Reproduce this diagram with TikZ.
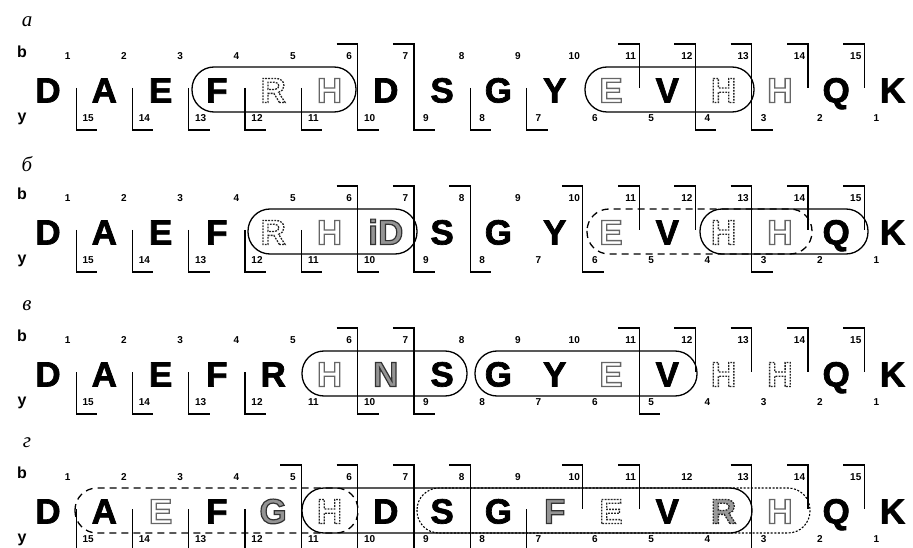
\documentclass[tikz,border=0pt]{standalone}
\usepackage{fontspec}
\setmainfont{Liberation Sans}
\newfontfamily\labfont{Liberation Serif}
\usetikzlibrary{calc}
\newcommand{\pdflit}[1]{\special{pdf:literal direct #1}}
\tikzset{
  res/.style={font=\fontsize{35}{35}\selectfont\bfseries,anchor=base,inner sep=0pt},
  num/.style={font=\fontsize{10}{10}\selectfont\bfseries,inner sep=0pt},
  ion/.style={font=\fontsize{16}{16}\selectfont\bfseries,inner sep=0pt},
  plab/.style={font=\fontsize{21}{21}\selectfont\labfont\itshape,inner sep=0pt},
  frag/.style={line width=1.2pt},
  caps/.style={line width=1.3pt,rounded corners=22pt},
  capsdash/.style={caps,dash pattern=on 7pt off 5pt},
  capsdot/.style={caps,line width=1.1pt,dash pattern=on 2pt off 1.6pt},
  resplain/.style={execute at begin node={\pdflit{2 Tr 0.7 w}},
                   execute at end node={\pdflit{0 Tr}}},
  reshollow/.style={execute at begin node={\pdflit{1 Tr 1.3 w 0.4 G}},
                    execute at end node={\pdflit{0 Tr 0 G}}},
  resdot/.style={execute at begin node={\pdflit{1 Tr 1.3 w 0.15 G [1.8 1.2] 0 d}},
                 execute at end node={\pdflit{0 Tr 0 G [] 0 d}}},
  resgrey/.style={execute at begin node={\pdflit{2 Tr 1.2 w 0.58 g 0.2 G}},
                  execute at end node={\pdflit{0 Tr 0 g 0 G}}},
  resgreydot/.style={execute at begin node={\pdflit{2 Tr 1.3 w 0.6 g 0.15 G [1.8 1.2] 0 d}},
                     execute at end node={\pdflit{0 Tr 0 g 0 G [] 0 d}}},
}
% #1 name, #2 row centre, #3 panel label, #4 residues, #5 b ions, #6 y ions (by cleavage site)
\newcommand{\pepline}[6]{%
  \node[plab] (#1lab) at (27,#2-68) {#3};
  \node[ion] (#1b) at (22,#2-38) {b};
  \node[ion] (#1y) at (22,#2+29) {y};
  \foreach \r/\s [count=\i from 0] in {#4}
    \node[res,\s] (#1r\i) at (48+56.3*\i,#2+12.5) {\r};
  \foreach \k in {1,...,15}{
    \pgfmathtruncatemacro\yn{16-\k}
    \node[num] (#1bn\k) at (11.3+56.3*\k,#2-34) {\k};
    \node[num] (#1yn\k) at (31.8+56.3*\k,#2+28) {\yn};
  }
  \foreach \k in {#5}
    \draw[frag] (-1.2+56.3*\k,#2-46) -- (19.8+56.3*\k,#2-46) -- (19.8+56.3*\k,#2-2);
  \foreach \k in {#6}
    \draw[frag] (19.8+56.3*\k,#2-2) -- (19.8+56.3*\k,#2+40) -- (40.8+56.3*\k,#2+40);
}
\newcommand{\capsule}[4][]{\draw[caps,#1] (#3,#2-23) rectangle (#4,#2+22);}

\begin{document}
\begin{tikzpicture}[x=1pt,y=-1pt]
  \useasboundingbox (0,0) rectangle (913,548);

  % a
  \capsule{90}{192}{356}
  \capsule{90}{585}{754}
  \pepline{a}{90}{а}{D/resplain,A/resplain,E/resplain,F/resplain,R/resdot,H/reshollow,D/resplain,S/resplain,G/resplain,Y/resplain,E/reshollow,V/resplain,H/resdot,H/reshollow,Q/resplain,K/resplain}
    {6,7,11,12,13,14,15}{1,2,3,4,5,6,7,8,9,12,13}

  % b
  \capsule{232}{248}{417}
  \capsule[capsdash]{232}{587}{812}
  \capsule{232}{700}{868}
  \pepline{bb}{232}{б}{D/resplain,A/resplain,E/resplain,F/resplain,R/resdot,H/reshollow,iD/resgrey,S/resplain,G/resplain,Y/resplain,E/reshollow,V/resplain,H/resdot,H/reshollow,Q/resplain,K/resplain}
    {6,7,8,10,11,12,13,14,15}{1,2,3,4,5,6,7,8,10,13}

  % v
  \capsule{374}{302}{467}
  \capsule{374}{475}{697}
  \pepline{v}{374}{в}{D/resplain,A/resplain,E/resplain,F/resplain,R/resplain,H/reshollow,N/resgrey,S/resplain,G/resplain,Y/resplain,E/reshollow,V/resplain,H/resdot,H/resdot,Q/resplain,K/resplain}
    {6,7,11,12,13,14,15}{1,2,3,4,6,7,11}

  % g
  \capsule[capsdash]{511}{75}{358}
  \capsule[capsdot]{511}{417}{810}
  \capsule{511}{302}{752}
  \pepline{g}{511}{г}{D/resplain,A/resplain,E/reshollow,F/resplain,G/resgrey,H/resdot,D/resplain,S/resplain,G/resplain,F/resgrey,E/resdot,V/resplain,R/resgreydot,H/reshollow,Q/resplain,K/resplain}
    {5,6,7,8,10,11,13,14,15}{1,2,3,4,5,6,7,8,9,13}
\end{tikzpicture}
\end{document}
